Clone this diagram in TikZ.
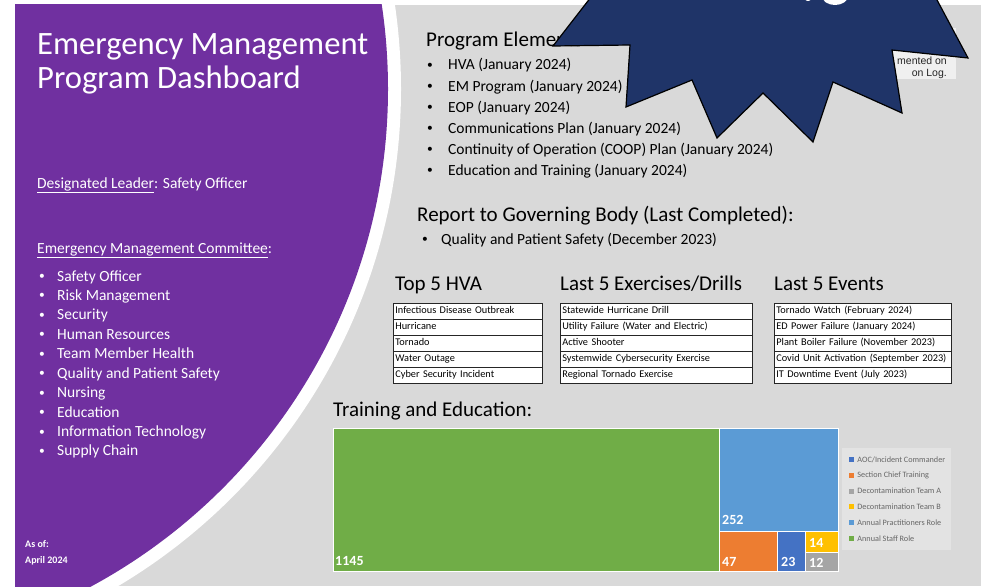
\documentclass[tikz,border=0pt]{standalone}
\usepackage{fontspec}
\setmainfont{Carlito}
\newfontfamily\notefont{Liberation Sans}
\usetikzlibrary{positioning}

\definecolor{slidegray}{HTML}{D9D9D9}
\definecolor{dashpurple}{HTML}{7030A0}
\definecolor{starnavy}{HTML}{1F3468}
\definecolor{legendgray}{HTML}{E3E3E3}
\definecolor{notegray}{HTML}{F0F0F0}
\definecolor{tmgreen}{HTML}{70AD47}
\definecolor{tmblue}{HTML}{5B9BD5}
\definecolor{tmorange}{HTML}{ED7D31}
\definecolor{tmdarkblue}{HTML}{4472C4}
\definecolor{tmyellow}{HTML}{FFC000}
\definecolor{tmgray}{HTML}{A5A5A5}

\tikzset{
  lefttext/.style={text=white, inner sep=0pt, anchor=base west, font=\fontsize{15.5}{18}\selectfont},
  righttext/.style={text=black, inner sep=0pt, anchor=base west, font=\fontsize{15.5}{18}\selectfont},
  dot/.style={inner sep=0pt, anchor=base west, font=\fontsize{11.5}{12}\selectfont},
  heading/.style={text=black, inner sep=0pt, anchor=base west, font=\fontsize{21}{25}\selectfont},
  cell/.style={draw=black!85, fill=white, line width=0.7pt, anchor=north west, minimum height=16pt,
    inner xsep=2pt, inner ysep=0pt, text height=7.5pt, text depth=2.5pt, align=left,
    font=\fontsize{10.3}{12}\selectfont},
  tmlabel/.style={text=white, inner sep=0pt, anchor=base west, font=\bfseries\fontsize{14}{16}\selectfont},
  tmblock/.style={draw=white, line width=1pt},
  legendtext/.style={text=black!60, inner sep=0pt, anchor=west, font=\fontsize{8.2}{9}\selectfont},
  notetext/.style={text=black!85, inner sep=0pt, anchor=base east, font=\notefont\fontsize{10.5}{12}\selectfont},
}

\begin{document}
\begin{tikzpicture}[x=1pt,y=-1pt]
% page and slide background
\useasboundingbox (0,0) rectangle (981,586);
\fill[white] (0,0) rectangle (981,586);
\fill[slidegray] (15,5) rectangle (981,586);

% purple side panel with its white rim
\def\rimx{-177}
\def\rimy{89}
\begin{scope}
  \clip (15,5) rectangle (981,586);
  \fill[white] (\rimx,\rimy) circle[radius=578pt];
  \fill[dashpurple] (\rimx,\rimy) circle[radius=565pt];
\end{scope}

% left panel text
\node[lefttext, font=\fontsize{32.6}{38}\selectfont] (title1) at (37,55) {Emergency Management};
\node[lefttext, font=\fontsize{32.6}{38}\selectfont] (title2) at (37,88) {Program Dashboard};
\node[lefttext] (leader) at (37,188) {\underline{Designated Leader}: Safety Officer};
\node[lefttext] (committee) at (37,253) {\underline{Emergency Management Committee}:};
\foreach \member [count=\i] in {Safety Officer, Risk Management, Security, Human Resources,
    Team Member Health, Quality and Patient Safety, Nursing, Education,
    Information Technology, Supply Chain} {
  \node[dot, text=white] (cmdot\i) at (39,{279.5+(\i-1)*19.44}) {•};
  \node[lefttext] (cm\i) at (57,{281+(\i-1)*19.44}) {\member};
}
\node[lefttext, font=\bfseries\fontsize{10}{12}\selectfont] (asof) at (25,547) {As of:};
\node[lefttext, font=\bfseries\fontsize{10}{12}\selectfont] (asofdate) at (25,563) {April 2024};

% note box, mostly under the star
\fill[notegray] (860,28) rectangle (956,79);
\node[notetext] (note1) at (947,64) {mented on};
\node[notetext] (note2) at (947,76) {on Log.};

% program elements
\node[heading] (proghead) at (426,47) {Program Elements};
\foreach \element [count=\i] in {HVA (January 2024), EM Program (January 2024), EOP (January 2024),
    Communications Plan (January 2024), Continuity of Operation (COOP) Plan (January 2024),
    Education and Training (January 2024)} {
  \node[dot] (pedot\i) at (427,{68.5+(\i-1)*21}) {•};
  \node[righttext] (pe\i) at (448,{70+(\i-1)*21}) {\element};
}

% report to governing body
\node[heading] (reporthead) at (417,221) {Report to Governing Body (Last Completed):};
\node[dot] (rpdot) at (422,242.5) {•};
\node[righttext] (rp1) at (441,244) {Quality and Patient Safety (December 2023)};

% the three tables
\node[heading] (hvahead) at (395,290) {Top 5 HVA};
\node[heading] (drillhead) at (560,290) {Last 5 Exercises/Drills};
\node[heading] (eventhead) at (774,290) {Last 5 Events};
\foreach \hva [count=\i] in {Infectious Disease Outbreak, Hurricane, Tornado, Water Outage,
    Cyber Security Incident}
  \node[cell, text width=145pt] (hva\i) at (393,{303+(\i-1)*16}) {\mbox{\hva}};
\foreach \drill [count=\i] in {Statewide Hurricane Drill, Utility Failure (Water and Electric),
    Active Shooter, Systemwide Cybersecurity Exercise, Regional Tornado Exercise}
  \node[cell, text width=188pt] (drill\i) at (560,{303+(\i-1)*16}) {\mbox{\drill}};
\foreach \event [count=\i] in {Tornado Watch (February 2024), ED Power Failure (January 2024),
    Plant Boiler Failure (November 2023), Covid Unit Activation (September 2023),
    IT Downtime Event (July 2023)}
  \node[cell, text width=173pt] (event\i) at (774,{303+(\i-1)*16}) {\mbox{\event}};

% training treemap
\node[heading] (trainhead) at (333,416) {Training and Education:};
\fill[tmgreen, tmblock] (333,428) rectangle (719,571);
\fill[tmblue, tmblock] (719,428) rectangle (838,531);
\fill[tmorange, tmblock] (719,531) rectangle (777,571);
\fill[tmdarkblue, tmblock] (777,531) rectangle (805,571);
\fill[tmyellow, tmblock] (805,531) rectangle (838,552);
\fill[tmgray, tmblock] (805,552) rectangle (838,571);
\node[tmlabel] (staff) at (335,565) {1145};
\node[tmlabel] (practitioners) at (722,524) {252};
\node[tmlabel] (chief) at (722,566) {47};
\node[tmlabel] (aoc) at (781,566) {23};
\node[tmlabel] (deconb) at (809,547) {14};
\node[tmlabel] (decona) at (809,567) {12};

% legend
\fill[legendgray] (842,448) rectangle (951,550);
\foreach \col/\lbl [count=\i] in {tmdarkblue/{AOC/Incident Commander}, tmorange/{Section Chief Training},
    tmgray/{Decontamination Team A}, tmyellow/{Decontamination Team B},
    tmblue/{Annual Practitioners Role}, tmgreen/{Annual Staff Role}} {
  \node[fill=\col, minimum size=5pt, inner sep=0pt] (lsq\i) at (851.5,{459.5+(\i-1)*15.8}) {};
  \node[legendtext, right=3pt of lsq\i] (ltx\i) {\lbl};
}

% explosion shape over the top right
\filldraw[fill=starnavy, draw=black, line width=1.2pt, line join=miter]
  (612,-30) -- (553,46) -- (630,45) -- (626,107) -- (692,80) -- (717,138) -- (763,93)
  -- (813,142) -- (833,82) -- (902,113) -- (892,50) -- (968,58) -- (921,-30) -- cycle;
\fill[white] (835,-4) ellipse[x radius=13pt, y radius=9pt];
\fill[white] (808,-6) ellipse[x radius=5pt, y radius=7pt];

\end{tikzpicture}
\end{document}
